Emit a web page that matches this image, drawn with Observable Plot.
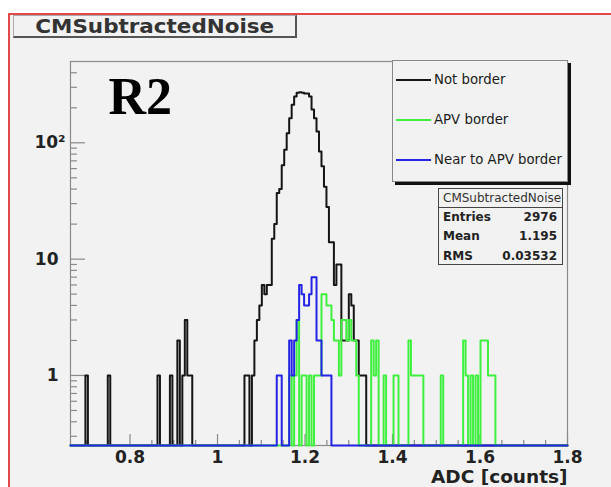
<!DOCTYPE html>
<html><head><meta charset="utf-8">
<script src="https://cdn.jsdelivr.net/npm/d3@7"></script>
<script src="https://cdn.jsdelivr.net/npm/@observablehq/plot@0.6"></script>
<style>
html,body{margin:0;padding:0;background:#fff;}
#wrap{position:relative;width:611px;height:487px;overflow:hidden;background:#fff;font-family:"DejaVu Sans",sans-serif;color:#222;}
#canvas{position:absolute;left:8px;top:13px;width:603px;height:474px;background:#f2f2f2;border-left:2px solid #e24a4a;border-top:2px solid #e24a4a;box-sizing:border-box;}
#chart{position:absolute;left:0;top:0;}
#title{position:absolute;left:13px;top:15px;width:284px;height:23px;box-sizing:border-box;background:#f2f2f2;border-left:1px solid #aaa;border-top:1px solid #aaa;border-right:2px solid #555;border-bottom:2px solid #555;text-align:center;line-height:21px;font-weight:bold;font-size:19px;color:#333;overflow:hidden;}
#title span{display:inline-block;transform:scaleX(1.13);}
#legend{position:absolute;left:392px;top:60px;width:176px;height:122px;box-sizing:border-box;background:#f2f2f2;border:1px solid #888;box-shadow:3px 3px 0 #111;overflow:hidden;}
.lrow{position:absolute;left:0;height:20px;width:172px;}
.lline{position:absolute;left:3px;top:9px;width:35px;height:1.6px;}
.ltext{position:absolute;left:41px;top:0;line-height:20px;font-size:13.3px;white-space:nowrap;color:#1a1a1a;}
#stats{position:absolute;left:438px;top:188px;width:125px;height:77px;box-sizing:border-box;background:#f2f2f2;border:1px solid #444;overflow:hidden;font-size:12px;}
#stats .hdr{position:absolute;left:4px;top:0;height:18px;line-height:18px;white-space:nowrap;color:#333;}
#stats .sep{position:absolute;left:0;top:18px;width:100%;height:1px;background:#444;}
#stats .row{position:absolute;left:4px;right:5px;height:18px;line-height:18px;font-weight:bold;}
#stats .row .v{position:absolute;right:0;top:0;}
</style>
</head><body>
<div id="wrap">
  <div id="canvas"></div>
  <div id="chart"></div>
  <div id="title"><span>CMSubtractedNoise</span></div>
  <div id="legend"></div>
  <div id="stats"></div>
</div>
<script>
// ---- histogram definition ----
const xMin = 0.664, xMax = 1.8, nBins = 200;
const yMin = 0.25, yMax = 500;

// ---- series: bin centres (ADC counts) and entries ----
const notBorderX = [0.701,0.752,0.866,0.894,0.911,0.922,0.928,0.934,0.940,
  1.064,1.070,1.082,1.087,1.093,1.099,1.104,1.110,1.116,1.121,
  1.127,1.133,1.138,1.144,1.150,1.155,1.161,1.167,1.172,1.178,1.184,1.190,1.195,1.201,1.207,1.212,1.218,1.224,1.229,1.235,1.241,1.246,1.252,1.258,
  1.263,1.269,1.275,1.280,1.286,1.292,1.297,1.303,1.309,1.315,1.320,1.326,1.332,1.337];
const notBorderN = [1,1,1,1,2,1,3,1,1,
  1,1,1,2,3,4,6,5,6,6,
  15,20,37,40,64,87,121,163,212,250,270,272,270,266,265,250,193,163,125,84,63,42,28,14,
  14,6,9,9,2,2,2,5,4,2,2,1,1,1];

const apvX = [1.167,1.178,1.184,1.195,1.201,1.212,1.224,1.229,1.235,1.241,1.246,1.252,1.258,
  1.263,1.269,1.275,1.280,1.286,1.292,1.297,1.303,1.309,1.315,1.320,
  1.354,1.360,1.366,1.383,1.405,1.411,1.439,1.445,1.451,1.457,1.462,1.468,1.513,
  1.564,1.570,1.581,1.593,1.604,1.610,1.616,1.621,1.627,1.633];
const apvN = [1,1,3,1,1,1,1,1,1,5,5,4,4,
  3,2,2,1,3,3,2,3,2,2,1,
  2,1,2,1,1,1,2,1,1,1,1,1,1,
  2,1,1,1,2,2,2,1,1,1];

const nearX = [1.138,1.144,1.167,1.172,1.178,1.184,1.190,1.195,1.201,1.207,1.212,1.218,1.224,1.229,1.235,1.241,1.246,1.252,1.258];
const nearN = [1,1,2,1,2,3,6,5,4,4,5,7,7,2,2,1,1,1,1];

const seriesNames = ["Not border","APV border","Near to APV border"];
const seriesColors = ["#151515","#3ff03f","#2424e6"];

// ---- ticks ----
const xMajor = [0.8,1,1.2,1.4,1.6,1.8];
const xMinor = [0.7,0.75,0.85,0.9,0.95,1.05,1.1,1.15,1.25,1.3,1.35,1.45,1.5,1.55,1.65,1.7,1.75];
const yMajor = [1,10,100];
const yMinor = [0.3,0.4,0.5,0.6,0.7,0.8,0.9,2,3,4,5,6,7,8,9,20,30,40,50,60,70,80,90,200,300,400];

const stats = [["Entries","2976"],["Mean","1.195"],["RMS","0.03532"]];

// ---- build step outlines ----
const binW = (xMax - xMin) / nBins;
function outline(xs, ns){
  const dense = new Array(nBins).fill(0);
  xs.forEach((x,k)=>{ const i = Math.floor((x - xMin)/binW); if(i>=0 && i<nBins) dense[i] += ns[k]; });
  const pts = [];
  dense.forEach((c,i)=>{ const y = c>0 ? c : yMin; pts.push({x:xMin+i*binW, y},{x:xMin+(i+1)*binW, y}); });
  return pts;
}
const series = [outline(notBorderX,notBorderN), outline(apvX,apvN), outline(nearX,nearN)];

const W=611,H=487,mL=70,mR=44,mT=61,mB=42;
const fW=W-mL-mR, fH=H-mT-mB;
const axisCol="#8a8a8a";
const font="DejaVu Sans";

const chart = Plot.plot({
  width:W,height:H,marginLeft:mL,marginRight:mR,marginTop:mT,marginBottom:mB,
  style:{background:"transparent",fontFamily:font},
  x:{domain:[xMin,xMax],axis:null},
  y:{type:"log",domain:[yMin,yMax],axis:null},
  marks:[
    Plot.frame({stroke:axisCol,strokeWidth:1.2}),
    Plot.tickY(yMinor,{y:d=>d,stroke:axisCol,strokeWidth:1.2,insetRight:fW-7}),
    Plot.tickY(yMajor,{y:d=>d,stroke:axisCol,strokeWidth:1.2,insetRight:fW-15}),
    Plot.tickX(xMinor,{x:d=>d,stroke:axisCol,strokeWidth:1.2,insetTop:fH-5}),
    Plot.tickX(xMajor,{x:d=>d,stroke:axisCol,strokeWidth:1.2,insetTop:fH-11}),
    ...series.map((s,k)=>Plot.line(s,{x:"x",y:"y",stroke:seriesColors[k],strokeWidth:2})),
    Plot.text(xMajor,{x:d=>d,frameAnchor:"bottom",lineAnchor:"top",dy:5,text:d=>d===1?"1":d.toFixed(1),fontSize:17,fontWeight:"bold",fill:"#222"}),
    Plot.text(yMajor.slice(0,2),{y:d=>d,frameAnchor:"left",textAnchor:"end",dx:-12,text:d=>String(d),fontSize:17,fontWeight:"bold",fill:"#222"}),
    Plot.text(yMajor.slice(2),{y:d=>d,frameAnchor:"left",textAnchor:"end",dx:-5,text:()=>"10\u00B2",fontSize:17,fontWeight:"bold",fill:"#222"}),
    Plot.text(["ADC [counts]"],{frameAnchor:"bottom-right",textAnchor:"end",lineAnchor:"top",dy:24,fontSize:18.5,fontWeight:"bold",fill:"#222"}),
    Plot.text(["R2"],{frameAnchor:"top-left",textAnchor:"start",lineAnchor:"middle",dx:38,dy:36,fontSize:52,fontFamily:"Liberation Serif",fontWeight:"bold",fill:"#000"})
  ]
});
document.getElementById("chart").appendChild(chart);

// legend
const legend = document.getElementById("legend");
const rowTops=[9,49,89];
seriesNames.forEach((n,k)=>{
  const r=document.createElement("div"); r.className="lrow"; r.style.top=rowTops[k]+"px";
  const l=document.createElement("div"); l.className="lline"; l.style.background=seriesColors[k];
  const t=document.createElement("div"); t.className="ltext"; t.textContent=n;
  r.appendChild(l); r.appendChild(t); legend.appendChild(r);
});
// stats box
const sb=document.getElementById("stats");
const h=document.createElement("div"); h.className="hdr"; h.textContent="CMSubtractedNoise"; sb.appendChild(h);
const sp=document.createElement("div"); sp.className="sep"; sb.appendChild(sp);
const sTops=[19,38,58];
stats.forEach((s,k)=>{
  const r=document.createElement("div"); r.className="row"; r.style.top=sTops[k]+"px";
  r.innerHTML="<span></span><span class='v'></span>";
  r.children[0].textContent=s[0]; r.children[1].textContent=s[1];
  sb.appendChild(r);
});
</script>
</body></html>
